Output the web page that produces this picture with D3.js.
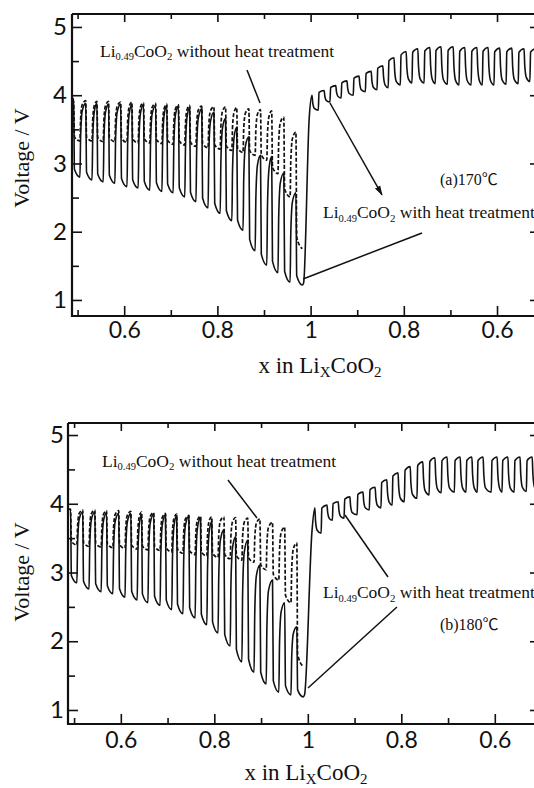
<!DOCTYPE html>
<html><head><meta charset="utf-8">
<script src="https://cdn.jsdelivr.net/npm/d3@7"></script>
<style>
body{margin:0;background:#fff;}
svg{display:block;}
text{white-space:pre;}
</style></head><body>
<svg id="chart" width="534" height="788"></svg>
<script>
// ---------------- DATA ----------------
// x axis tick values (distance coordinate: >1 means charge, label = 2 - u)
const xMajorTicks = [0.6, 0.8, 1.0, 1.2, 1.4];
const xMinorTicks = [0.5, 0.7, 0.9, 1.1, 1.3];
const yMajorTicks = [1, 2, 3, 4, 5];
const yMinorTicks = [1.5, 2.5, 3.5, 4.5];

// Panel (a) 170 C — discharge pulses (x in LixCoO2 at end of each pulse)
const aDisX       = [0.505,0.531,0.555,0.580,0.606,0.630,0.655,0.681,0.705,0.730,0.754,0.780,0.806,0.831,0.855,0.881,0.906,0.930,0.956,0.982];
const aSolidRest  = [3.95,3.88,3.88,3.87,3.87,3.86,3.86,3.85,3.85,3.84,3.82,3.80,3.75,3.66,3.53,3.39,3.12,3.10,2.86,2.57];
const aSolidPulse = [2.80,2.76,2.73,2.71,2.66,2.64,2.61,2.59,2.57,2.51,2.44,2.35,2.27,2.16,2.02,1.72,1.51,1.40,1.26,1.22];
const aDashRest   = [3.92,3.92,3.91,3.91,3.90,3.90,3.89,3.88,3.87,3.86,3.85,3.84,3.83,3.83,3.82,3.80,3.79,3.77,3.68,3.46];
const aDashPulse  = [3.33,3.33,3.32,3.32,3.31,3.30,3.30,3.29,3.28,3.27,3.25,3.23,3.21,3.19,3.16,3.12,3.05,2.85,2.51,1.75];
// Panel (a) — charge pulses (x in LixCoO2 at end of each pulse)
const aChX     = [0.997,0.971,0.946,0.922,0.896,0.870,0.845,0.821,0.795,0.770,0.744,0.720,0.694,0.669,0.643,0.619,0.594,0.568,0.542,0.517];
const aChPulse = [4.00,4.07,4.14,4.21,4.28,4.35,4.43,4.55,4.64,4.68,4.70,4.71,4.71,4.70,4.70,4.70,4.69,4.69,4.68,4.68];
const aChRest  = [3.78,3.90,3.96,4.00,4.05,4.08,4.11,4.15,4.18,4.18,4.17,4.16,4.15,4.15,4.15,4.15,4.16,4.17,4.20,4.20];

// Panel (b) 180 C
const bDisX       = [0.506,0.532,0.558,0.583,0.609,0.635,0.658,0.684,0.709,0.733,0.759,0.784,0.808,0.834,0.859,0.885,0.911,0.938,0.964,0.990];
const bSolidRest  = [3.92,3.88,3.88,3.87,3.86,3.86,3.85,3.85,3.84,3.83,3.82,3.80,3.74,3.62,3.52,3.47,3.11,2.89,2.56,2.21];
const bSolidPulse = [2.85,2.76,2.72,2.69,2.64,2.60,2.56,2.52,2.46,2.40,2.34,2.24,2.12,1.93,1.70,1.55,1.38,1.26,1.22,1.19];
const bDashRest   = [3.92,3.91,3.91,3.90,3.90,3.89,3.88,3.87,3.86,3.85,3.83,3.82,3.81,3.81,3.80,3.79,3.78,3.73,3.66,3.43];
const bDashPulse  = [3.40,3.38,3.37,3.36,3.35,3.34,3.33,3.32,3.30,3.28,3.26,3.24,3.22,3.20,3.18,3.15,3.04,2.89,2.56,1.63];
const bChX     = [0.985,0.959,0.935,0.910,0.882,0.856,0.831,0.807,0.781,0.754,0.728,0.702,0.674,0.649,0.625,0.595,0.572,0.546,0.520];
const bChPulse = [3.94,3.98,4.03,4.10,4.17,4.24,4.35,4.45,4.54,4.61,4.67,4.68,4.68,4.68,4.68,4.68,4.68,4.68,4.68];
const bChRest  = [3.57,3.76,3.79,3.84,3.91,3.94,3.98,4.03,4.08,4.13,4.16,4.17,4.17,4.17,4.17,4.17,4.17,4.18,4.18];

// ---------------- DRAWING ----------------
const svg = d3.select("#chart");
const SERIF = "'Liberation Serif','Times New Roman',serif";
const SANS = "Lato,'Liberation Sans',sans-serif";
const INK = "#111";

svg.append("defs").append("marker")
  .attr("id","arrow").attr("viewBox","0 -4 10 8").attr("refX",9).attr("refY",0)
  .attr("markerWidth",10).attr("markerHeight",8).attr("markerUnits","userSpaceOnUse")
  .attr("orient","auto")
  .append("path").attr("d","M0,-3L10,0L0,3Z").attr("fill",INK);

function dischargePts(xs, R, P, u0) {
  const pts = [[u0, R[0]]];
  const n = xs.length;
  for (let k = 0; k < n; k++) {
    pts.push([xs[k]-0.0135, R[k]]);
    pts.push([xs[k]-0.0118, P[k] + 0.1*(R[k]-P[k])]);
    pts.push([xs[k], P[k]]);
    if (k < n-1) {
      pts.push([xs[k]+0.0015, P[k] + 0.55*(R[k+1]-P[k])]);
      pts.push([xs[k]+0.005, R[k+1] - 0.1*(R[k+1]-P[k])]);
    }
  }
  return pts;
}
function chargePts(chX, T, R, startU, startV) {
  const pts = [];
  let L = startV;
  chX.forEach((xv, k) => {
    const c = 2 - xv;
    if (k === 0) {
      pts.push([startU + 0.003, L + 0.03]);
      pts.push([c - 0.006, T[k] - 0.12*(T[k]-L)]);
    } else {
      pts.push([c - 0.0125, L]);
      pts.push([c - 0.011, T[k] - 0.1*(T[k]-L)]);
    }
    pts.push([c, T[k]]);
    pts.push([c + 0.0015, R[k] + 0.5*(T[k]-R[k])]);
    pts.push([c + 0.005, R[k] + 0.12*(T[k]-R[k])]);
    L = R[k];
    if (k === chX.length-1) pts.push([c + 0.011, R[k]]);
  });
  return pts;
}

function liLabel(g, px, py, rest, fs) {
  const t = g.append("text").attr("x", px).attr("y", py)
    .attr("font-family", SERIF).attr("font-size", fs).attr("fill", INK);
  t.append("tspan").text("Li");
  t.append("tspan").attr("font-size", fs*0.6).attr("dy", fs*0.2).text("0.49");
  t.append("tspan").attr("dy", -fs*0.2).text("CoO");
  t.append("tspan").attr("font-size", fs*0.62).attr("dy", fs*0.2).text("2");
  t.append("tspan").attr("dy", -fs*0.2).text(" " + rest);
}

function fmtX(d) {
  const v = d <= 1.0001 ? d : 2 - d;
  return Math.abs(v - 1) < 1e-6 ? "1" : v.toFixed(1);
}

function drawPanel(p) {
  const g = svg.append("g");
  const x = d3.scaleLinear().domain(p.uDomain).range([p.left, p.right]);
  const y = d3.scaleLinear().domain(p.vDomain).range([p.bottom, p.top]);
  const clipId = "clip" + p.id;
  svg.select("defs").append("clipPath").attr("id", clipId).append("rect")
    .attr("x", p.left).attr("y", p.top).attr("width", p.right - p.left).attr("height", p.bottom - p.top);

  const line = d3.line().x(d => x(d[0])).y(d => y(d[1])).curve(d3.curveMonotoneX);

  // curves
  const solidDis = dischargePts(p.disX, p.solidRest, p.solidPulse, p.uDomain[0]);
  const last = solidDis[solidDis.length-1];
  const solid = solidDis.concat(chargePts(p.chX, p.chPulse, p.chRest, last[0], last[1]));
  const dash = dischargePts(p.disX, p.dashRest, p.dashPulse, p.uDomain[0]);
  const cg = g.append("g").attr("clip-path", `url(#${clipId})`);
  cg.append("path").attr("d", line(dash)).attr("fill","none").attr("stroke",INK)
    .attr("stroke-width",1.7).attr("stroke-dasharray","4,2");
  cg.append("path").attr("d", line(solid)).attr("fill","none").attr("stroke",INK)
    .attr("stroke-width",1.6);

  // axes
  const styleAxis = sel => { sel.select(".domain").remove(); sel.selectAll("line").attr("stroke",INK).attr("stroke-width",1.6); };
  g.append("g").attr("transform",`translate(0,${p.bottom})`)
    .call(d3.axisBottom(x).tickValues(xMajorTicks).tickSize(-10).tickPadding(p.xPad).tickFormat(fmtX))
    .call(styleAxis)
    .call(s => s.selectAll("text").attr("font-family",SANS).attr("font-size",23).attr("fill",INK));
  g.append("g").attr("transform",`translate(0,${p.bottom})`)
    .call(d3.axisBottom(x).tickValues(xMinorTicks).tickSize(-6).tickFormat(""))
    .call(styleAxis);
  g.append("g").attr("transform",`translate(0,${p.top})`)
    .call(d3.axisTop(x).tickValues(xMajorTicks).tickSize(-8).tickFormat(""))
    .call(styleAxis);
  g.append("g").attr("transform",`translate(0,${p.top})`)
    .call(d3.axisTop(x).tickValues(xMinorTicks).tickSize(-5).tickFormat(""))
    .call(styleAxis);
  g.append("g").attr("transform",`translate(${p.left},0)`)
    .call(d3.axisLeft(y).tickValues(yMajorTicks).tickSize(-10).tickPadding(p.yPad).tickFormat(d3.format("d")))
    .call(styleAxis)
    .call(s => s.selectAll("text").attr("font-family",SANS).attr("font-size",24).attr("fill",INK));
  g.append("g").attr("transform",`translate(${p.left},0)`)
    .call(d3.axisLeft(y).tickValues(yMinorTicks).tickSize(-7).tickFormat(""))
    .call(styleAxis);
  g.append("g").attr("transform",`translate(${p.right},0)`)
    .call(d3.axisRight(y).tickValues(yMajorTicks).tickSize(-5).tickFormat(""))
    .call(styleAxis);

  // frame
  g.append("path")
    .attr("d", `M${p.left},${p.top}H${p.right}M${p.left},${p.top}V${p.bottom}H${p.right}`)
    .attr("fill","none").attr("stroke",INK).attr("stroke-width",2.2);

  // axis titles
  g.append("text").attr("transform",`translate(${p.yTitle[0]},${p.yTitle[1]}) rotate(-90)`)
    .attr("text-anchor","middle").attr("font-family",SERIF).attr("font-size",22).attr("fill",INK)
    .text("Voltage / V");
  const xt = g.append("text").attr("x", p.xTitle[0]).attr("y", p.xTitle[1]).attr("text-anchor","middle")
    .attr("font-family",SERIF).attr("font-size",23).attr("fill",INK);
  xt.append("tspan").text("x in Li");
  xt.append("tspan").attr("font-size",15).attr("dy",4).text("X");
  xt.append("tspan").attr("dy",-4).text("CoO");
  xt.append("tspan").attr("font-size",15).attr("dy",4).text("2");

  // annotations
  liLabel(g, x(p.ann.t1[0]), y(p.ann.t1[1]), "without heat treatment", 17.5);
  liLabel(g, x(p.ann.t2[0]), y(p.ann.t2[1]), "with heat treatment", 17.5);
  g.append("text").attr("x", x(p.ann.temp[0])).attr("y", y(p.ann.temp[1]))
    .attr("font-family", SERIF + ",'Noto Sans CJK JP'").attr("font-size",16).attr("fill",INK)
    .text(p.ann.tempText);
  p.ann.lines.forEach(l => {
    const ln = g.append("line")
      .attr("x1", x(l[0][0])).attr("y1", y(l[0][1]))
      .attr("x2", x(l[1][0])).attr("y2", y(l[1][1]))
      .attr("stroke",INK).attr("stroke-width",1.5);
    if (l[2]) ln.attr("marker-end","url(#arrow)");
  });
}

drawPanel({
  id:"a", left:72, right:535, top:14, bottom:316,
  uDomain:[0.488, 1.4815], vDomain:[0.765, 5.19],
  xPad:6, yPad:5, yTitle:[29,158], xTitle:[320,373],
  disX:aDisX, solidRest:aSolidRest, solidPulse:aSolidPulse, dashRest:aDashRest, dashPulse:aDashPulse,
  chX:aChX, chPulse:aChPulse, chRest:aChRest,
  ann:{
    t1:[0.548,4.56], t2:[1.0266,2.20], temp:[1.2777,2.685], tempText:"(a)170\u2103",
    lines:[
      [[0.8635,4.37],[0.8914,3.886],false],
      [[1.0416,3.886],[1.1532,2.54],true],
      [[0.9837,1.308],[1.239,1.982],false]
    ]
  }
});
drawPanel({
  id:"b", left:68, right:535, top:423, bottom:724,
  uDomain:[0.487, 1.486], vDomain:[0.796, 5.175],
  xPad:8, yPad:4, yTitle:[29,572], xTitle:[306,780],
  disX:bDisX, solidRest:bSolidRest, solidPulse:bSolidPulse, dashRest:bDashRest, dashPulse:bDashPulse,
  chX:bChX, chPulse:bChPulse, chRest:bChRest,
  ann:{
    t1:[0.5597,4.535], t2:[1.0325,2.629], temp:[1.2827,2.164], tempText:"(b)180\u2103",
    lines:[
      [[0.8292,4.345],[0.8913,3.793],false],
      [[1.0795,3.836],[1.1715,2.935],false],
      [[1.1907,2.498],[1.0004,1.320],false]
    ]
  }
});
</script>
</body></html>
